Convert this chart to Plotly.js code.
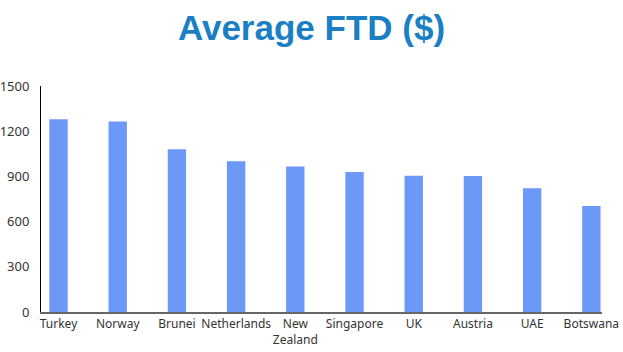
<!DOCTYPE html>
<html><head><meta charset="utf-8">
<script src="https://cdn.plot.ly/plotly-3.0.1.min.js"></script>
<style>html,body{margin:0;padding:0;background:#fff}#chart{width:623px;height:352px}</style>
</head><body><div id="chart"></div>
<script>
const categories = ["Turkey","Norway","Brunei","Netherlands","New<br>Zealand","Singapore","UK","Austria","UAE","Botswana"];
const values = [1280, 1265, 1080, 1000, 965, 930, 905, 902, 822, 703];
const yTicks = [0, 300, 600, 900, 1200, 1500];

const trace = {
  type: "bar",
  x: categories.map((c, i) => i),
  y: values,
  width: 0.31,
  marker: {color: "#6c98f8", line: {width: 0}},
  hoverinfo: "x+y"
};
const layout = {
  width: 623, height: 352,
  margin: {l: 41, r: 21, t: 86, b: 40},
  paper_bgcolor: "#fff", plot_bgcolor: "#fff",
  title: {text: "<b>Average FTD ($)</b>", x: 0.5, xanchor: "center", y: 0.92, yanchor: "middle",
    font: {family: "Liberation Sans, Arial, sans-serif", size: 35, color: "#1b7fc3"}},
  xaxis: {
    range: [-0.296, 9.18], tickmode: "array", tickvals: categories.map((c, i) => i), ticktext: categories,
    tickangle: 0, automargin: false,
    showline: true, linecolor: "#666", linewidth: 2, showgrid: false, zeroline: false, ticks: "",
    tickfont: {family: "Noto Sans, Open Sans, sans-serif", size: 12, color: "#333"}, fixedrange: true
  },
  yaxis: {
    range: [0, 1500], tickmode: "array", tickvals: yTicks, ticktext: yTicks.map(String),
    showline: true, linecolor: "#000", linewidth: 1, showgrid: false, zeroline: false, ticks: "",
    ticklabelstandoff: 8, automargin: false,
    tickfont: {family: "Noto Sans, Open Sans, sans-serif", size: 13, color: "#333"}, fixedrange: true
  },
  showlegend: false
};
Plotly.newPlot("chart", [trace], layout, {staticPlot: true});
</script></body></html>
